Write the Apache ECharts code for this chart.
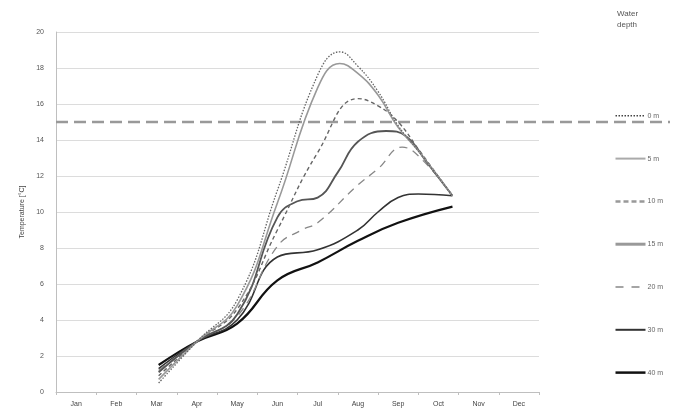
<!DOCTYPE html>
<html>
<head>
<meta charset="utf-8">
<script src="https://cdn.jsdelivr.net/npm/echarts@6/dist/echarts.min.js"></script>
<style>html,body{margin:0;padding:0;background:#fff}#c{width:680px;height:419px}</style>
</head>
<body>
<div id="c"></div>
<script>
// Month categories (x axis labels)
var months = ['Jan','Feb','Mar','Apr','May','Jun','Jul','Aug','Sep','Oct','Nov','Dec'];
var yTicks = {min: 0, max: 20, interval: 2};
var depthNames = ['0 m','5 m','10 m','15 m','20 m','30 m','40 m'];
// [month position (0 = Jan centre), temperature °C]
var d0m  = [[2.05,0.5],[3,2.8],[4,5.1],[5,11.2],[6,17.6],[6.55,18.9],[7,18.1],[7.5,16.7],[8,14.8],[8.5,13.4],[9.35,10.9]];
var d5m  = [[2.05,0.7],[3,2.8],[4,4.8],[5,10.5],[6,16.9],[6.55,18.25],[7,17.7],[7.5,16.5],[8,14.7],[8.5,13.4],[9.35,10.9]];
var d10m = [[2.05,0.9],[3,2.8],[4,4.6],[5,9.0],[6,13.3],[7,16.3],[7.5,15.9],[8,15.0],[8.5,13.5],[9.35,10.9]];
var d15m = [[2.05,1.1],[3,2.8],[4,4.3],[5,9.7],[5.5,10.6],[6,10.8],[6.5,12.2],[7,13.9],[7.7,14.5],[8.2,14.2],[8.7,12.8],[9.35,10.9]];
var d20m = [[2.05,1.2],[3,2.8],[4,4.2],[5,8.1],[5.6,9.0],[6,9.4],[7,11.5],[7.5,12.4],[8.1,13.6],[8.6,12.9],[9.35,10.9]];
var d30m = [[2.05,1.3],[3,2.8],[4,4.0],[5,7.5],[6,7.9],[7,9.0],[7.5,10.0],[8,10.8],[8.5,11.0],[9.35,10.9]];
var d40m = [[2.05,1.5],[3,2.8],[4,3.8],[5,6.2],[6,7.2],[7,8.4],[8,9.4],[9.35,10.3]];
var thresholdValue = 15;

var seriesData = [d0m, d5m, d10m, d15m, d20m, d30m, d40m];
var styles = [
  {color:'#666', width:1.3, type:[1.5,1.5]},
  {color:'#999', width:1.6, type:'solid'},
  {color:'#666', width:1.4, type:[4,3]},
  {color:'#555', width:1.8, type:'solid'},
  {color:'#888', width:1.3, type:[8,6]},
  {color:'#333', width:1.6, type:'solid'},
  {color:'#111', width:2.2, type:'solid'}
];
var legendStyles = [
  {color:'#444', width:1.5, type:[1.5,1.5]},
  {color:'#aaa', width:2, type:'solid'},
  {color:'#999', width:2.5, type:[5,3]},
  {color:'#999', width:3, type:'solid'},
  {color:'#888', width:1.5, type:[8,8]},
  {color:'#333', width:2, type:'solid'},
  {color:'#111', width:2.5, type:'solid'}
];

var series = depthNames.map(function(n, i){
  return {
    name: n, type: 'line', xAxisIndex: 1, yAxisIndex: 0,
    data: seriesData[i], smooth: 0.45, symbol: 'none', showSymbol: false,
    color: styles[i].color,
    lineStyle: {color: styles[i].color, width: styles[i].width, type: styles[i].type},
    z: 10 - i
  };
});
series.push({
  name: 'threshold', type: 'line', xAxisIndex: 2, yAxisIndex: 1,
  data: [[0, thresholdValue],[1, thresholdValue]], symbol: 'none', silent: true,
  lineStyle: {color:'#999', width: 2.5, type:[12,6]}, z: 1
});

var chart = echarts.init(document.getElementById('c'), null, {renderer:'canvas'});
chart.setOption({
  animation: false,
  title: {text: 'Water\ndepth', left: 612, top: 3, textStyle: {fontSize: 8, fontWeight: 'normal', color: '#555', lineHeight: 11, fontFamily: 'Liberation Sans'}},
  legend: {
    orient: 'vertical', left: 609, top: 106, itemWidth: 30, itemHeight: 12, itemGap: 33.2,
    textStyle: {fontSize: 7, color: '#666', fontFamily: 'Liberation Sans', padding: [0,0,0,-3]},
    itemStyle: {opacity: 0},
    data: depthNames.map(function(n, i){ return {name: n, itemStyle: {opacity: 0}, lineStyle: legendStyles[i]}; })
  },
  grid: [
    {left: 56, right: 141, top: 32, bottom: 27},
    {left: 56, right: 10, top: 32, bottom: 27}
  ],
  xAxis: [
    {type: 'category', gridIndex: 0, data: months, boundaryGap: true,
     axisLine: {lineStyle: {color: '#bfbfbf'}},
     axisTick: {show: true, length: 3, lineStyle: {color: '#bfbfbf'}},
     axisLabel: {fontSize: 7, color: '#444', margin: 9, fontFamily: 'Liberation Sans'},
     splitLine: {show: false}},
    {type: 'value', gridIndex: 0, min: -0.5, max: 11.5, show: false},
    {type: 'value', gridIndex: 1, min: 0, max: 1, show: false}
  ],
  yAxis: [
    {type: 'value', gridIndex: 0, min: yTicks.min, max: yTicks.max, interval: yTicks.interval,
     name: 'Temperature [°C]', nameLocation: 'middle', nameGap: 29, nameRotate: 90,
     nameTextStyle: {fontSize: 7, color: '#444', fontFamily: 'Liberation Sans'},
     axisLine: {show: true, onZero: false, lineStyle: {color: '#bfbfbf'}},
     axisTick: {show: false},
     axisLabel: {fontSize: 7, color: '#555', margin: 12, fontFamily: 'Liberation Sans'},
     splitLine: {lineStyle: {color: '#dcdcdc', width: 1}}},
    {type: 'value', gridIndex: 1, min: yTicks.min, max: yTicks.max, show: false}
  ],
  series: series
});
</script>
</body>
</html>
